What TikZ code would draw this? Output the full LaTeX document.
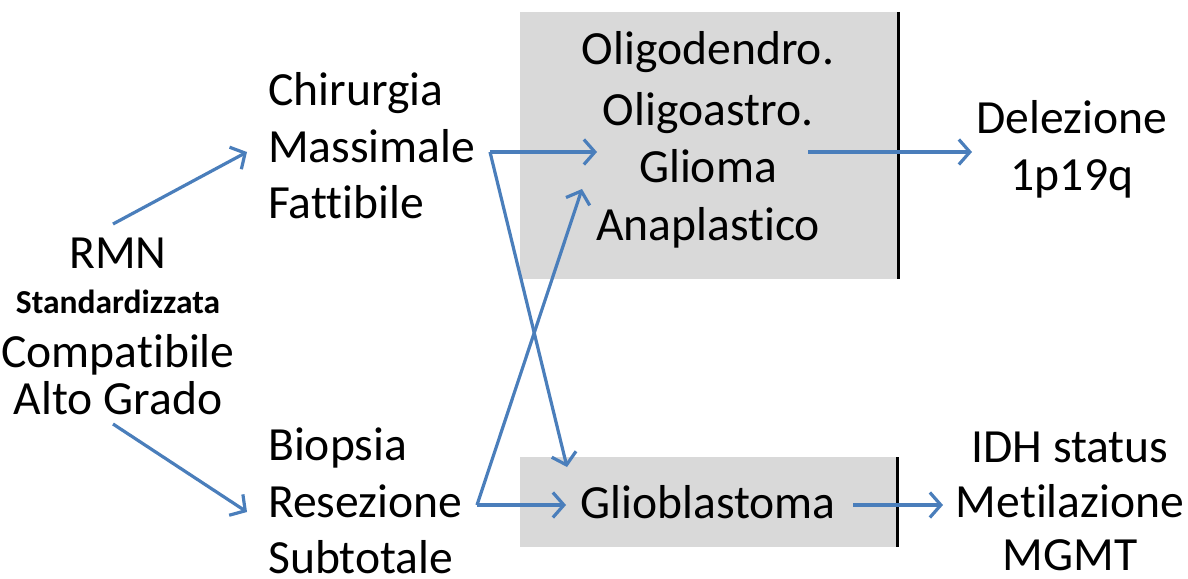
\documentclass[tikz,border=0pt]{standalone}
\usepackage{fontspec}
\setmainfont{Carlito}[Ligatures={NoCommon}]
\usetikzlibrary{arrows.meta}
\definecolor{arrblue}{RGB}{74,126,187}
\definecolor{boxgray}{RGB}{217,217,217}
\begin{document}
\begin{tikzpicture}[x=1pt,y=-1pt,
  txt/.style={anchor=base,inner sep=0pt,font=\fontsize{47.6}{57}\selectfont},
  txtl/.style={anchor=base west,inner sep=0pt,font=\fontsize{47.6}{57}\selectfont},
  small/.style={anchor=base,inner sep=0pt,font=\fontsize{33.5}{40}\selectfont\bfseries},
  conn/.style={draw=arrblue,line width=3.2pt,-{Straight Barb[length=11pt,width=25pt,line width=3.2pt]}},
  sep/.style={draw=black,line width=3pt},
  graybox/.style={fill=boxgray,draw=none}]
\useasboundingbox (0,0) rectangle (1188,578);
% boxes
\fill[graybox] (520,12) rectangle (897,279);
\fill[graybox] (520,457) rectangle (897,547);
\draw[sep] (898,12) coordinate (s1a) -- (898,279) coordinate (s1b);
\draw[sep] (897,457) coordinate (s2a) -- (897,547) coordinate (s2b);
% left block
\node[txt] (rmn) at (118,268) {RMN};
\node[small] (std) at (118,313) {Standardizzata};
\node[txt] (comp) at (118,367) {Compatibile};
\node[txt] (alto) at (118,414) {Alto Grado};
% chirurgia
\node[txtl] (chir) at (268,105) {Chirurgia};
\node[txtl] (mass) at (268,162) {Massimale};
\node[txtl] (fatt) at (268,218) {Fattibile};
% biopsia
\node[txtl] (biop) at (268,460) {Biopsia};
\node[txtl] (resez) at (268,517) {Resezione};
\node[txtl,text depth=0pt] (subt) at (268,573) {Subtotale};
% top box text
\node[txt] (oligod) at (708,65) {Oligodendro.};
\node[txt] (oligoa) at (708,125) {Oligoastro.};
\node[txt] (gliom) at (708,182) {Glioma};
\node[txt] (anapl) at (708,240) {Anaplastico};
% bottom box text
\node[txt] (gbm) at (708,518) {Glioblastoma};
% right texts
\node[txt] (delez) at (1072,133) {Delezione};
\node[txt] (p19q) at (1072,190) {1p19q};
\node[txt] (idh) at (1070,462) {IDH status};
\node[txt] (metil) at (1070,517) {Metilazione};
\node[txt,text depth=0pt] (mgmt) at (1070,570) {MGMT};
% connector end points
\coordinate (rmnTop) at (113,224);
\coordinate (rmnBot) at (113,424);
\coordinate (chirIn) at (247,152);
\coordinate (biopIn) at (247,512);
\coordinate (chirOut) at (490,152);
\coordinate (biopOut) at (477,505);
\coordinate (oligoIn) at (597,152);
\coordinate (oligoIn2) at (582,189);
\coordinate (gbmIn) at (567,467);
\coordinate (gbmIn2) at (566,505);
\coordinate (oligoOut) at (808,152);
\coordinate (delIn) at (972,152);
\coordinate (gbmOut) at (853,505);
\coordinate (metIn) at (943,505);
% connectors
\draw[conn] (rmnTop) -- (chirIn);
\draw[conn] (rmnBot) -- (biopIn);
\draw[conn] (chirOut) -- (oligoIn);
\draw[conn] (chirOut) -- (gbmIn);
\draw[conn] (biopOut) -- (oligoIn2);
\draw[conn] (biopOut) -- (gbmIn2);
\draw[conn] (oligoOut) -- (delIn);
\draw[conn] (gbmOut) -- (metIn);
\end{tikzpicture}
\end{document}
